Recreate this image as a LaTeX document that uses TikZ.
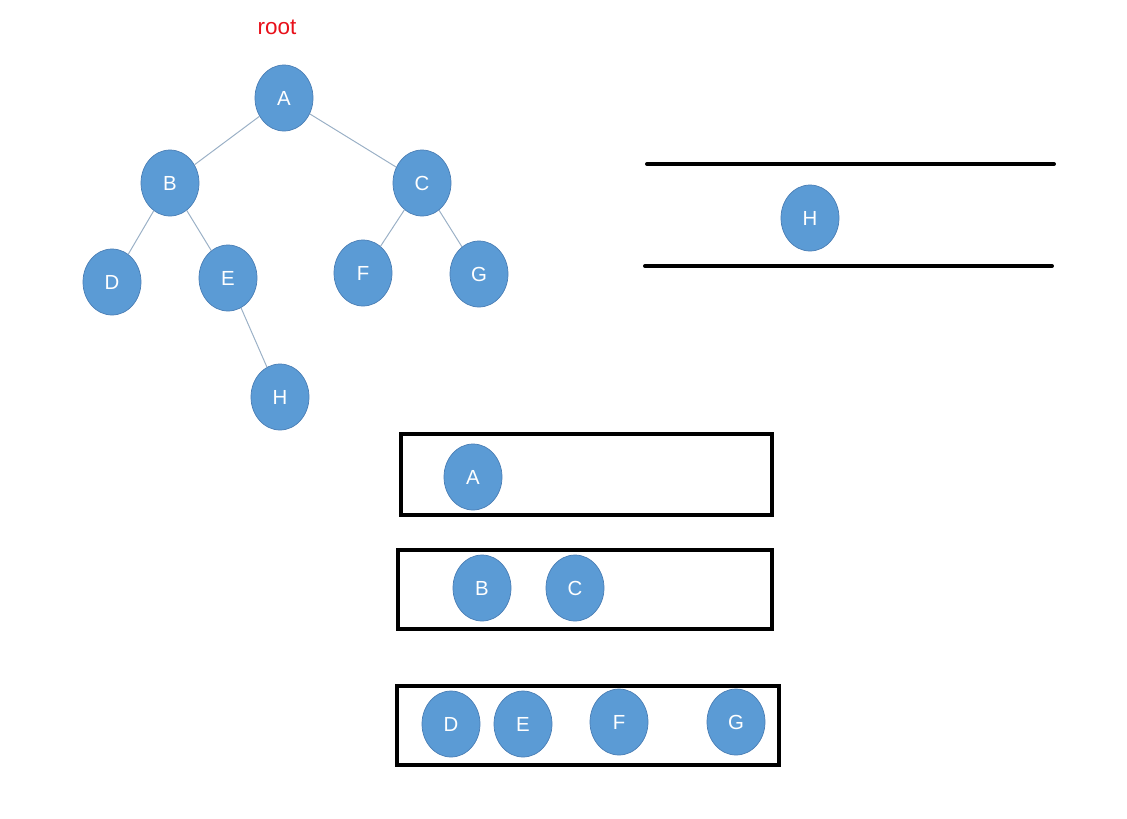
\documentclass[tikz,border=0pt]{standalone}
\usepackage{fontspec}
\setmainfont{Liberation Sans}
\usetikzlibrary{shapes.geometric,positioning}
\definecolor{nodeblue}{HTML}{5B9BD5}
\definecolor{nodeedge}{HTML}{4A7EB5}
\definecolor{linkgray}{HTML}{9AB0C6}
\definecolor{rootred}{HTML}{E8101A}

\begin{document}
\begin{tikzpicture}[x=0.025cm,y=-0.025cm,
  tnode/.style={ellipse, fill=nodeblue, draw=nodeedge, line width=0.5pt,
    minimum width=1.45cm, minimum height=1.65cm, inner sep=0pt,
    text=white, font=\fontsize{14.5}{16}\selectfont},
  link/.style={draw=linkgray, line width=0.7pt},
  boxline/.style={line width=2.8pt, line cap=round}]
  \useasboundingbox (0,0) rectangle (1127,818);

  % Tree
  \node[text=rootred, font=\fontsize{16}{18}\selectfont] (root) at (277,27) {root};
  \node[tnode] (A) at (284,98) {A};
  \node[tnode] (B) at (170,183) {B};
  \node[tnode] (C) at (422,183) {C};
  \node[tnode] (D) at (112,282) {D};
  \node[tnode] (E) at (228,278) {E};
  \node[tnode] (F) at (363,273) {F};
  \node[tnode] (G) at (479,274) {G};
  \node[tnode] (H) at (280,397) {H};
  \draw[link] (A) -- (B);
  \draw[link] (A) -- (C);
  \draw[link] (B) -- (D);
  \draw[link] (B) -- (E);
  \draw[link] (C) -- (F);
  \draw[link] (C) -- (G);
  \draw[link] (E) -- (H);

  % Queue holding H
  \draw[boxline] (647,164) -- (1054,164);
  \draw[boxline] (645,266) -- (1052,266);
  \node[tnode] (qH) at (810,218) {H};

  % Level 1
  \draw[boxline] (401,434) rectangle (772,515);
  \node[tnode] (lA) at (473,477) {A};

  % Level 2
  \draw[boxline] (398,550) rectangle (772,629);
  \node[tnode] (lB) at (482,588) {B};
  \node[tnode] (lC) at (575,588) {C};

  % Level 3
  \draw[boxline] (397,686) rectangle (779,765);
  \node[tnode] (lD) at (451,724) {D};
  \node[tnode] (lE) at (523,724) {E};
  \node[tnode] (lF) at (619,722) {F};
  \node[tnode] (lG) at (736,722) {G};
\end{tikzpicture}
\end{document}
